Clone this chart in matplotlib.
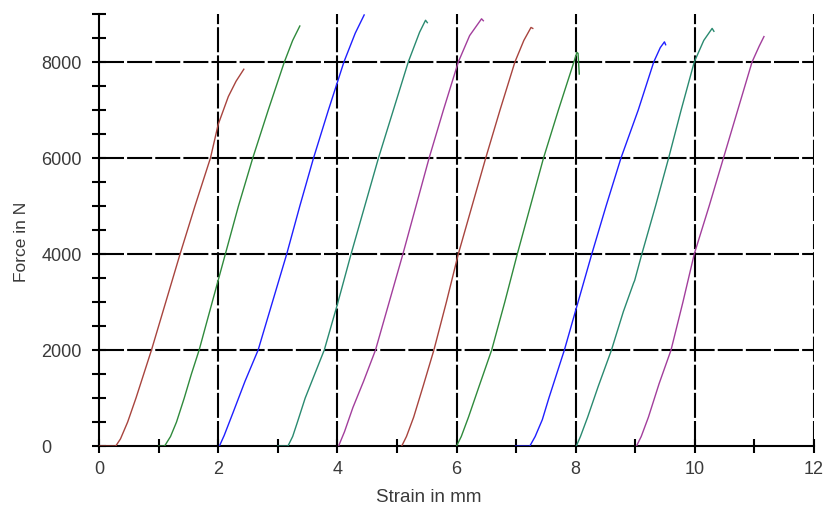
import matplotlib
matplotlib.use("Agg")
import matplotlib.pyplot as plt

plt.rcParams['font.family'] = ['Liberation Sans', 'DejaVu Sans']

# strain [mm] / force [N] for the ten specimens
s1 = [0, 0.28, 0.36, 0.48, 0.62, 0.75, 0.88, 1.12, 1.36, 1.61, 1.87, 2.00, 2.17, 2.30, 2.43]
f1 = [0, 0, 150, 500, 1000, 1500, 2000, 3000, 4000, 5000, 6000, 6700, 7280, 7600, 7850]
s2 = [1.00, 1.10, 1.20, 1.30, 1.43, 1.55, 1.68, 1.90, 2.12, 2.34, 2.58, 2.84, 3.11, 3.25, 3.37]
f2 = [0, 0, 200, 500, 1000, 1500, 2000, 3000, 4000, 5000, 6000, 7000, 8000, 8450, 8750]
s3 = [2.02, 2.10, 2.25, 2.45, 2.67, 2.91, 3.15, 3.37, 3.60, 3.85, 4.11, 4.30, 4.45]
f3 = [0, 220, 700, 1350, 2000, 3000, 4000, 5000, 6000, 7000, 8000, 8600, 8980]
s4 = [3.00, 3.17, 3.25, 3.33, 3.46, 3.62, 3.78, 4.00, 4.23, 4.46, 4.69, 4.94, 5.19, 5.38, 5.48, 5.51]
f4 = [0, 0, 200, 500, 1000, 1500, 2000, 2950, 4000, 5000, 6000, 7000, 8000, 8620, 8870, 8820]
s5 = [4.02, 4.12, 4.26, 4.44, 4.64, 4.87, 5.10, 5.32, 5.54, 5.78, 6.03, 6.22, 6.42, 6.45]
f5 = [0, 300, 800, 1350, 2000, 3000, 4000, 5000, 6000, 7000, 8000, 8550, 8900, 8860]
s6 = [5.08, 5.16, 5.28, 5.44, 5.62, 5.83, 6.03, 6.26, 6.49, 6.73, 6.98, 7.13, 7.25, 7.28]
f6 = [0, 200, 600, 1250, 2000, 3000, 4000, 5000, 6000, 7000, 8000, 8450, 8720, 8700]
s7 = [6.00, 6.08, 6.20, 6.38, 6.59, 6.81, 7.02, 7.24, 7.46, 7.71, 7.97, 8.02, 8.04, 8.06]
f7 = [0, 200, 600, 1250, 2000, 3000, 4000, 5000, 6000, 7000, 8000, 8200, 8180, 7750]
s8 = [6.99, 7.23, 7.32, 7.44, 7.55, 7.81, 8.04, 8.27, 8.51, 8.76, 9.05, 9.31, 9.42, 9.49, 9.51]
f8 = [0, 0, 200, 550, 1000, 2000, 3000, 4000, 5000, 6000, 7000, 8000, 8300, 8420, 8360]
s9 = [8.01, 8.08, 8.20, 8.38, 8.60, 8.80, 8.97, 8.99, 9.11, 9.34, 9.56, 9.77, 9.99, 10.15, 10.29, 10.32]
f9 = [0, 200, 600, 1250, 2000, 2800, 3390, 3450, 4000, 5000, 6000, 7000, 8000, 8450, 8700, 8640]
s10 = [9.02, 9.10, 9.22, 9.40, 9.60, 9.80, 9.99, 10.24, 10.48, 10.72, 10.96, 11.08, 11.16]
f10 = [0, 200, 600, 1300, 2000, 3000, 4000, 5000, 6000, 7000, 8000, 8330, 8530]

strains = [s1, s2, s3, s4, s5, s6, s7, s8, s9, s10]
forces = [f1, f2, f3, f4, f5, f6, f7, f8, f9, f10]
colors = ["#a8443e", "#2f8a3c", "#1f1fff", "#2a8a70", "#a23e9c"] * 2

fig = plt.figure(figsize=(8.28, 5.11), dpi=100)
ax = fig.add_axes([0.1196, 0.127, 0.8635, 0.8456])

gridstyle = dict(color="black", lw=1.5, ls=(0, (12, 1.5)), zorder=1)
for gx in [2, 4, 6, 8, 10, 12]:
    ax.axvline(gx, **gridstyle)
for gy in [2000, 4000, 6000, 8000]:
    ax.axhline(gy, **gridstyle)

for s, f, c in zip(strains, forces, colors):
    ax.plot(s, f, color=c, lw=1.0, zorder=3)

ax.set_xlim(0, 12)
ax.set_ylim(0, 9000)
ax.set_xticks(range(0, 13, 2))
ax.set_xticks(range(1, 12, 2), minor=True)
ax.set_yticks(range(0, 8001, 2000))
ax.set_yticks([500, 1000, 1500, 2500, 3000, 3500, 4500, 5000, 5500,
               6500, 7000, 7500, 8500, 9000], minor=True)

for sp in ["top", "right"]:
    ax.spines[sp].set_visible(False)
for sp in ["left", "bottom"]:
    ax.spines[sp].set_linewidth(1.5)

ax.tick_params(which="both", direction="inout", length=10, width=1.5,
               colors="black", labelcolor="#3a3a3a", labelsize=13)
ax.tick_params(axis="y", which="major", pad=36.5)
ax.tick_params(axis="x", which="major", pad=6)
for lab in ax.get_yticklabels():
    lab.set_horizontalalignment("left")

ax.set_xlabel("Strain in mm", fontsize=13.5, color="#3a3a3a", va="center")
ax.xaxis.set_label_coords(0.4615, -0.1185)
ax.set_ylabel("Force in N", fontsize=12.5, color="#3a3a3a", ha="center", va="center")
ax.yaxis.set_label_coords(-0.108, 0.473)

fig.savefig("out.png", dpi=100)
